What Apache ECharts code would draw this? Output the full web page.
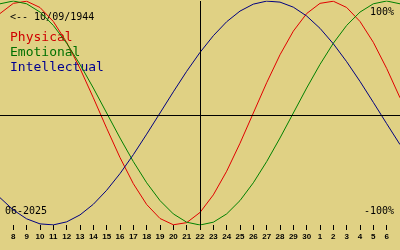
<!DOCTYPE html>
<html>
<head>
<meta charset="utf-8">
<script src="https://cdn.jsdelivr.net/npm/echarts@6/dist/echarts.min.js"></script>
<style>
html,body{margin:0;padding:0;background:#e0d184;}
#c{width:400px;height:250px;}
</style>
</head>
<body>
<div id="c"></div>
<script>
// Days shown: 7 June 2025 .. 7 July 2025
var days = ['7','8','9','10','11','12','13','14','15','16','17','18','19','20','21','22','23','24','25','26','27','28','29','30','1','2','3','4','5','6','7'];
var physical = [88.8,97.9,99.8,94.2,81.7,63.1,39.8,13.6,-13.6,-39.8,-63.1,-81.7,-94.2,-99.8,-97.9,-88.8,-73.1,-52.0,-27.0,0,27.0,52.0,73.1,88.8,97.9,99.8,94.2,81.7,63.1,39.8,13.6];
var emotional = [97.5,100,97.5,90.1,78.2,62.3,43.4,22.3,0,-22.3,-43.4,-62.3,-78.2,-90.1,-97.5,-100,-97.5,-90.1,-78.2,-62.3,-43.4,-22.3,0,22.3,43.4,62.3,78.2,90.1,97.5,100,97.5];
var intellectual = [-75.6,-86.6,-94.5,-99.0,-99.9,-97.2,-91.0,-81.5,-69.0,-54.1,-37.2,-18.9,0,18.9,37.2,54.1,69.0,81.5,91.0,97.2,99.9,99.0,94.5,86.6,75.6,61.8,45.8,28.2,9.5,-9.5,-28.2];
var todayIndex = 15; // 22 June
var birthLabel = '<-- 10/09/1944';
var monthLabel = '06-2025';
var seriesNames = ['Physical','Emotional','Intellectual'];
var colors = ['#e00000','#008000','#000080'];

var chart = echarts.init(document.getElementById('c'), null, {renderer:'canvas'});
var mono = 'DejaVu Sans Mono';
function inner(i){ return i > 0 && i < days.length - 1; }
chart.setOption({
  backgroundColor: '#e0d184',
  animation: false,
  grid: {left: 0, right: 0, top: 1, bottom: 25},
  xAxis: {
    type: 'category', data: days, boundaryGap: false,
    axisLine: {show: false, onZero: false},
    axisTick: {show: true, length: 5, interval: inner, lineStyle: {color: '#000', width: 1}},
    axisLabel: {interval: inner, margin: 8, color: '#000', fontFamily: 'Liberation Sans', fontSize: 8, fontWeight: 'bold'},
    splitLine: {show: false}
  },
  yAxis: {type: 'value', min: -100, max: 100, show: false},
  series: [
    {name: seriesNames[0], type: 'line', data: physical, symbol: 'none', lineStyle: {color: colors[0], width: 1}, itemStyle:{color: colors[0]},
     markLine: {silent: true, symbol: 'none', label: {show: false}, lineStyle: {color: '#000', width: 1, type: 'solid'},
       data: [{xAxis: todayIndex}, {yAxis: -1.8}]}},
    {name: seriesNames[1], type: 'line', data: emotional, symbol: 'none', lineStyle: {color: colors[1], width: 1}, itemStyle:{color: colors[1]}},
    {name: seriesNames[2], type: 'line', data: intellectual, symbol: 'none', lineStyle: {color: colors[2], width: 1}, itemStyle:{color: colors[2]}}
  ],
  graphic: [
    {type: 'text', left: 10, top: 12, style: {text: birthLabel, font: '10px "' + mono + '"', fill: '#000'}},
    {type: 'text', left: 10, top: 31, style: {text: seriesNames[0], font: '13px "' + mono + '"', fill: '#d00000'}},
    {type: 'text', left: 10, top: 46, style: {text: seriesNames[1], font: '13px "' + mono + '"', fill: '#007000'}},
    {type: 'text', left: 10, top: 61, style: {text: seriesNames[2], font: '13px "' + mono + '"', fill: '#000090'}},
    {type: 'text', right: 6, top: 7, style: {text: '100%', font: '10px "' + mono + '"', fill: '#000'}},
    {type: 'text', right: 6, top: 206, style: {text: '-100%', font: '10px "' + mono + '"', fill: '#000'}},
    {type: 'text', left: 5, top: 206, style: {text: monthLabel, font: '10px "' + mono + '"', fill: '#000'}}
  ]
});
</script>
</body>
</html>
